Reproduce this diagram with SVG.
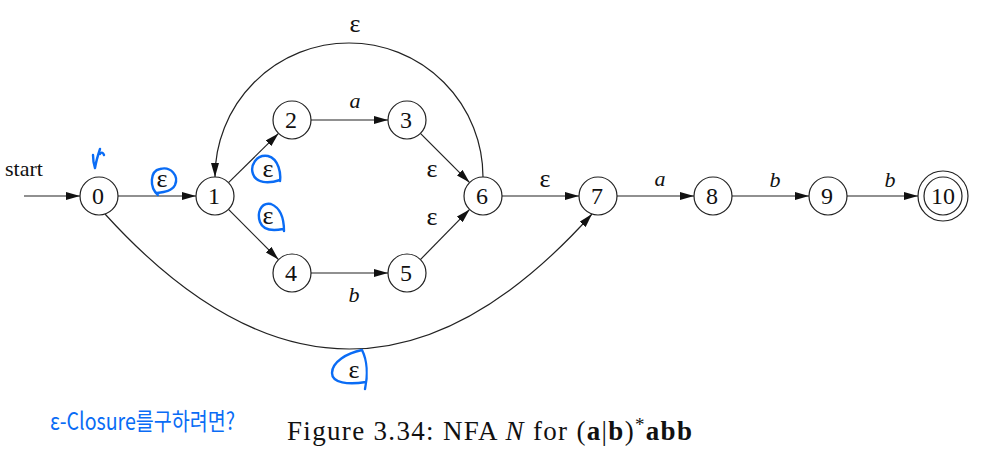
<svg xmlns="http://www.w3.org/2000/svg" width="984" height="453" viewBox="0 0 984 453">
<style>
.n{fill:#fff;stroke:#222;stroke-width:1.2}
.e{fill:none;stroke:#222;stroke-width:1.2;marker-end:url(#ah)}
.t{font-family:"Liberation Serif",serif;font-size:22px;fill:#111;text-anchor:middle}
.d{font-size:24px}
.g{font-size:26px}
.i{font-style:italic}
.blue{fill:none;stroke:#0a6cf5;stroke-width:2.4;stroke-linecap:round;stroke-linejoin:round}
</style>
<defs>
<marker id="ah" viewBox="0 0 14 8" refX="14" refY="4" markerWidth="14" markerHeight="8" orient="auto" markerUnits="userSpaceOnUse">
<path d="M0,0 L14,4 L0,8 z" fill="#111"/>
</marker>
</defs>
<rect width="984" height="453" fill="#fff"/>
<g id="connectors">
<path class="e" d="M24,196 L80,196"/>
<path class="e" d="M118,196 L196,196"/>
<path class="e" d="M228.5,182.6 L278.5,133.4"/>
<path class="e" d="M228.5,209.4 L278.5,259.6"/>
<path class="e" d="M311,120 L388,120"/>
<path class="e" d="M311,273 L388,273"/>
<path class="e" d="M420.4,133.4 L469.6,182.6"/>
<path class="e" d="M420.4,259.6 L469.6,209.4"/>
<path class="e" d="M502,196 L579,196"/>
<path class="e" d="M617,196 L694,196"/>
<path class="e" d="M732,196 L809,196"/>
<path class="e" d="M847,196 L918,196"/>
<path class="e" d="M483,177 A134,134 0 0 0 215,177"/>
<path class="e" d="M105,214 Q350,484 592,214"/>
<text class="t" x="24" y="176">start</text>
<text class="t g" x="162" y="187">ε</text>
<text class="t g" x="268" y="177">ε</text>
<text class="t g" x="268" y="224">ε</text>
<text class="t i" x="355" y="108">a</text>
<text class="t i" x="354" y="302">b</text>
<text class="t g" x="432" y="177">ε</text>
<text class="t g" x="432" y="225">ε</text>
<text class="t g" x="355" y="32">ε</text>
<text class="t g" x="545" y="187">ε</text>
<text class="t i" x="660" y="186">a</text>
<text class="t i" x="775" y="187">b</text>
<text class="t i" x="890" y="187">b</text>
<text class="t g" x="354" y="378">ε</text>
</g>
<g id="n0"><circle class="n" cx="99" cy="196" r="19"/><text class="t d" x="98" y="204">0</text></g>
<g id="n1"><circle class="n" cx="215" cy="196" r="19"/><text class="t d" x="214" y="204">1</text></g>
<g id="n2"><circle class="n" cx="292" cy="120" r="19"/><text class="t d" x="291" y="128">2</text></g>
<g id="n3"><circle class="n" cx="407" cy="120" r="19"/><text class="t d" x="406" y="128">3</text></g>
<g id="n4"><circle class="n" cx="292" cy="273" r="19"/><text class="t d" x="291" y="281">4</text></g>
<g id="n5"><circle class="n" cx="407" cy="273" r="19"/><text class="t d" x="406" y="281">5</text></g>
<g id="n6"><circle class="n" cx="483" cy="196" r="19"/><text class="t d" x="482" y="204">6</text></g>
<g id="n7"><circle class="n" cx="598" cy="196" r="19"/><text class="t d" x="597" y="204">7</text></g>
<g id="n8"><circle class="n" cx="713" cy="196" r="19"/><text class="t d" x="712" y="204">8</text></g>
<g id="n9"><circle class="n" cx="828" cy="196" r="19"/><text class="t d" x="827" y="204">9</text></g>
<g id="n10"><circle class="n" cx="943" cy="196" r="25"/><circle class="n" cx="943" cy="196" r="19"/><text class="t d" x="943" y="204">10</text></g>
<g id="caption">
<text x="287" y="440" font-family="'Liberation Serif',serif" font-size="27" fill="#111" textLength="405" lengthAdjust="spacing">Figure 3.34: NFA <tspan font-style="italic">N</tspan> for (<tspan font-weight="bold">a</tspan>|<tspan font-weight="bold">b</tspan>)<tspan dy="-9" font-size="19">*</tspan><tspan dy="9" font-weight="bold">abb</tspan></text>
</g>
<g id="annotations">
<path class="blue" d="M93,155 C93,160 94,165 95,168 C96,162 98,155 100,149 M100,154 C101,152 103,152 104,155"/>
<path class="blue" d="M158,195 C149,187 150,171 160,169 C171,166 179,176 175,185 C172,191 165,192 157,193"/>
<path class="blue" d="M280,181 C281,174 279,159 268,156 C256,154 250,166 253,174 C256,183 268,184 280,180"/>
<path class="blue" d="M284,231 C284,222 283,209 271,204 C260,202 257,214 260,222 C263,230 273,231 283,229"/>
<path class="blue" d="M365,389 C368,375 367,360 362,350 C347,353 332,362 332,373 C332,383 348,385 366,382"/>
<text x="50" y="430" font-family="'Noto Sans CJK KR',sans-serif" font-size="24" fill="#0a6cf5" textLength="185" lengthAdjust="spacingAndGlyphs">ε-Closure를구하려면?</text>
</g>
</svg>
